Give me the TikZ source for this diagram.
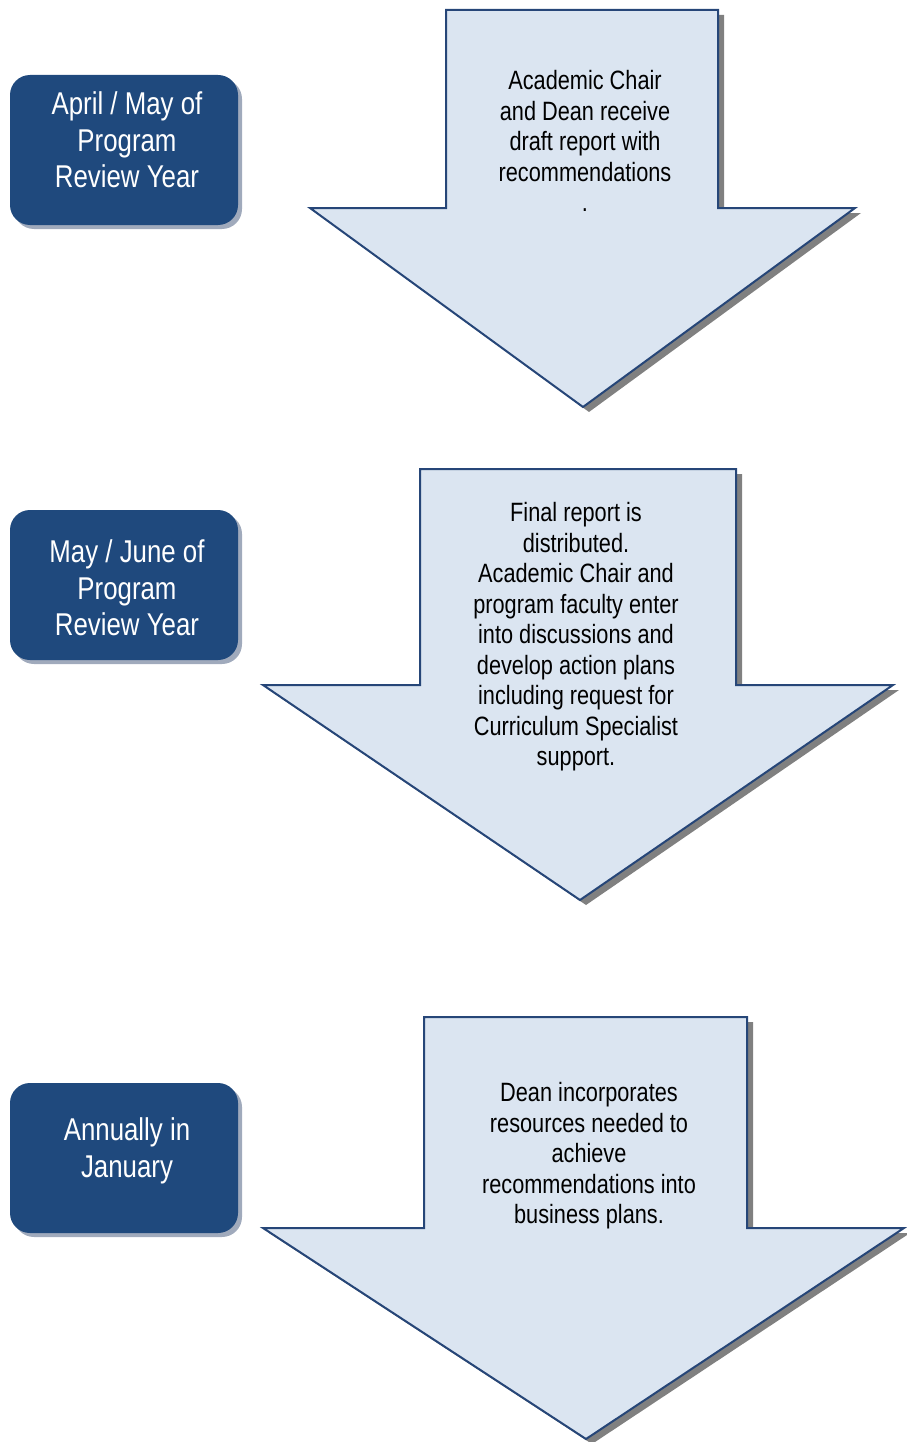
\documentclass[tikz,border=0pt]{standalone}
\usepackage{fontspec}
\setmainfont{Liberation Sans}[FakeStretch=0.82]
\usepackage{tikz}
\definecolor{boxblue}{RGB}{31,73,125}
\definecolor{boxshade}{RGB}{160,170,188}
\definecolor{arrowfill}{RGB}{219,229,241}
\definecolor{arrowline}{RGB}{38,70,120}
\definecolor{arrowshade}{RGB}{128,128,128}
\tikzstyle{period}=[
        fill=boxblue,
        rounded corners=20pt
]
\tikzstyle{periodshadow}=[
        fill=boxshade,
        rounded corners=20pt
]
\tikzstyle{periodtext}=[
        text=white,
        align=center,
        font=\fontsize{31.5}{36.5}\selectfont
]
\tikzstyle{steparrow}=[
        draw=arrowline,
        fill=arrowfill,
        line width=2pt,
        line join=miter
]
\tikzstyle{steparrowshadow}=[
        fill=arrowshade
]
\tikzstyle{steptext}=[
        align=center,
        font=\fontsize{26.5}{30.5}\selectfont
]
% shaft left, shaft right, shaft top, head y, head left, head right, tip x, tip y
\newcommand{\downarrowshape}[8]{
        \fill[steparrowshadow, shift={(6,5)}] (#1,#3) -- (#2,#3) -- (#2,#4) -- (#6,#4)
                -- (#7,#8) -- (#5,#4) -- (#1,#4) -- cycle;
        \draw[steparrow] (#1,#3) -- (#2,#3) -- (#2,#4) -- (#6,#4)
                -- (#7,#8) -- (#5,#4) -- (#1,#4) -- cycle;
}
\begin{document}
\begin{tikzpicture}[x=1pt,y=-1pt]
                        \useasboundingbox (0,0) rectangle (906,1442);

                        % time periods
                        \fill[periodshadow] (14,79) rectangle (242,229);
                        \fill[period] (10,75) rectangle (238,225);
                        \node[periodtext] (april) at (127,140) {April / May of\\Program\\Review Year};

                        \fill[periodshadow] (14,514) rectangle (242,664);
                        \fill[period] (10,510) rectangle (238,660);
                        \node[periodtext] (june) at (127,588) {May / June of\\Program\\Review Year};

                        \fill[periodshadow] (14,1087) rectangle (242,1237);
                        \fill[period] (10,1083) rectangle (238,1233);
                        \node[periodtext] (january) at (127,1151) {Annually in\\January};

                        % steps
                        \downarrowshape{446}{718}{10}{208}{310}{855}{583}{407}
                        \node[steptext] (draft) at (585,141) {Academic Chair\\and Dean receive\\draft report with\\recommendations\\.};

                        \downarrowshape{420}{736}{469}{685}{263}{893}{580}{900}
                        \node[steptext] (final) at (576,637) {Final report is\\distributed.\\Academic Chair and\\program faculty enter\\into discussions and\\develop action plans\\including request for\\Curriculum Specialist\\support.};

                        \downarrowshape{424}{747}{1017}{1228}{263}{904}{586}{1439}
                        \node[steptext] (budget) at (589,1156) {Dean incorporates\\resources needed to\\achieve\\recommendations into\\business plans.};

                    \end{tikzpicture}
\end{document}
